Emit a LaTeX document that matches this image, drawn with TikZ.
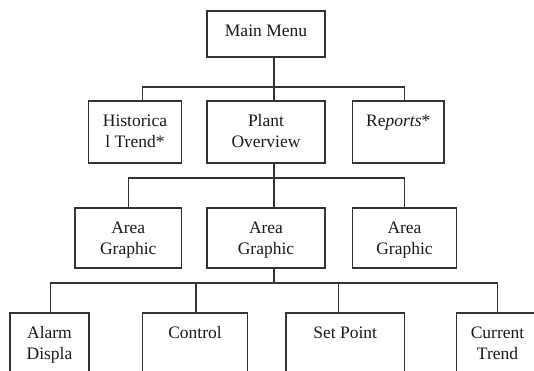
\documentclass[tikz,border=0pt]{standalone}
\usepackage{fontspec}
\setmainfont{Liberation Serif}
\begin{document}
\begin{tikzpicture}[x=1pt,y=-1pt,
  menubox/.style={draw=black!80, line width=1.4pt, rectangle, anchor=north west,
    inner sep=0pt, outer sep=0pt},
  lbl/.style={anchor=north, align=center, inner sep=0pt, text=black!90,
    font=\fontsize{17.5}{21}\selectfont},
  wire/.style={draw=black!80, line width=1.3pt}]
\useasboundingbox (0,0) rectangle (534,371);
\clip (0,0) rectangle (534,371);

% boxes: top-left corner, width and height
\node[menubox, minimum width=118pt, minimum height=46pt] (mm)    at (207,11)    {};
\node[menubox, minimum width=93pt,  minimum height=62pt] (hist)  at (88.5,101)  {};
\node[menubox, minimum width=118pt, minimum height=62pt] (plant) at (207,101)   {};
\node[menubox, minimum width=91.5pt,minimum height=62pt] (rep)   at (352.5,101) {};
\node[menubox, minimum width=106.5pt,minimum height=60pt] (a1)   at (75,208)    {};
\node[menubox, minimum width=118pt, minimum height=60pt] (a2)    at (207,208)   {};
\node[menubox, minimum width=104pt, minimum height=60pt] (a3)    at (352.5,208) {};
\node[menubox, minimum width=79pt,  minimum height=80pt] (alarm) at (10,313)    {};
\node[menubox, minimum width=105pt, minimum height=80pt] (ctrl)  at (142.5,313) {};
\node[menubox, minimum width=118.5pt,minimum height=80pt] (setp) at (286,313)   {};
\node[menubox, minimum width=82pt,  minimum height=80pt] (cur)   at (456.5,313) {};

% labels, set from the top of each box
\node[lbl] (tmm)    at ([yshift=-13.5pt]mm.north)    {Main Menu};
\node[lbl] (thist)  at ([yshift=-13.5pt]hist.north)  {Historica\\l Trend*};
\node[lbl] (tplant) at ([yshift=-13.5pt]plant.north) {Plant\\Overview};
\node[lbl] (trep)   at ([yshift=-13.5pt]rep.north)   {Re\textit{ports}*};
\node[lbl] (ta1)    at ([yshift=-13.5pt]a1.north)    {Area\\Graphic};
\node[lbl] (ta2)    at ([yshift=-13.5pt]a2.north)    {Area\\Graphic};
\node[lbl] (ta3)    at ([yshift=-13.5pt]a3.north)    {Area\\Graphic};
\node[lbl] (talarm) at ([yshift=-13.5pt]alarm.north) {Alarm\\Displa};
\node[lbl] (tctrl)  at ([yshift=-13.5pt]ctrl.north)  {Control};
\node[lbl] (tsetp)  at ([yshift=-13.5pt]setp.north)  {Set Point};
\node[lbl] (tcur)   at ([yshift=-13.5pt]cur.north)   {Current\\Trend};

% bus junctions
\coordinate (b1) at (274,87);
\coordinate (b2) at (274,178);
\coordinate (b3) at (274,283);

% level 1
\draw[wire] ([xshift=8pt]mm.south) -- (b1);
\draw[wire] ([xshift=7.5pt]hist.north) |- (b1) -| ([xshift=6.5pt]rep.north);
\draw[wire] (b1) -- ([xshift=8pt]plant.north);

% level 2
\draw[wire] ([xshift=8pt]plant.south) -- (b2);
\draw[wire] (a1.north) |- (b2) -| (a3.north);
\draw[wire] (b2) -- ([xshift=8pt]a2.north);

% level 3
\draw[wire] ([xshift=8pt]a2.south) -- (b3);
\draw[wire] ([xshift=1pt]alarm.north) |- (b3) -| (cur.north);
\draw[wire] ([xshift=1pt]ctrl.north) -- ([xshift=1pt]ctrl.north |- b3);
\draw[wire] ([xshift=-7pt]setp.north) -- ([xshift=-7pt]setp.north |- b3);
\end{tikzpicture}
\end{document}
